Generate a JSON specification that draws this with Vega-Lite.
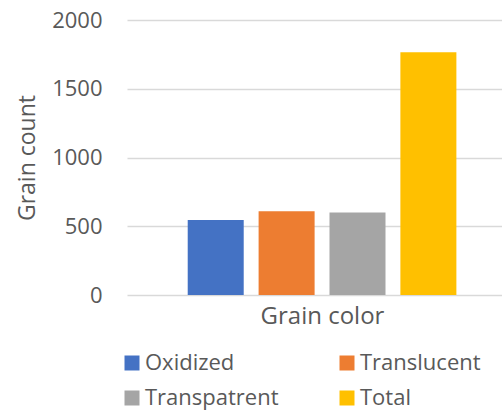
{
  "$schema": "https://vega.github.io/schema/vega-lite/v6.json",
  "width": 375,
  "height": 275,
  "autosize": {"type": "none"},
  "padding": {"left": 127, "top": 20, "right": 0, "bottom": 117},
  "background": "white",
  "config": {
    "font": "Open Sans",
    "view": {"stroke": null},
    "axis": {"labelColor": "#595959", "titleColor": "#595959", "labelFont": "Open Sans", "titleFont": "Open Sans", "titleFontWeight": "normal"}
  },
  "data": {
    "values": [
      {"series": "Oxidized", "count": 545},
      {"series": "Translucent", "count": 609},
      {"series": "Transpatrent", "count": 600},
      {"series": "Total", "count": 1765}
    ]
  },
  "mark": {"type": "bar"},
  "encoding": {
    "x": {
      "field": "series",
      "type": "nominal",
      "sort": null,
      "scale": {"paddingInner": 0.21, "paddingOuter": 0.75, "align": 0.571},
      "axis": {
        "title": "Grain color",
        "labels": false,
        "ticks": false,
        "domain": false,
        "titleFontSize": 24,
        "titleX": 195,
        "titlePadding": 9
      }
    },
    "y": {
      "field": "count",
      "type": "quantitative",
      "scale": {"domain": [0, 2000], "nice": false},
      "axis": {
        "title": "Grain count",
        "values": [0, 500, 1000, 1500, 2000],
        "format": "d",
        "domain": false,
        "ticks": false,
        "labelPadding": 25,
        "labelFontSize": 22,
        "titleFontSize": 23,
        "titlePadding": 12,
        "gridColor": "#D9D9D9",
        "gridWidth": 1.5
      }
    },
    "color": {
      "field": "series",
      "type": "nominal",
      "sort": null,
      "scale": {
        "domain": ["Oxidized", "Translucent", "Transpatrent", "Total"],
        "range": ["#4472C4", "#ED7D31", "#A5A5A5", "#FFC000"]
      },
      "legend": {
        "title": null,
        "orient": "none",
        "legendX": -6,
        "legendY": 332,
        "columns": 2,
        "direction": "horizontal",
        "symbolType": "square",
        "symbolSize": 225,
        "symbolStrokeWidth": 0,
        "labelFontSize": 22,
        "labelColor": "#595959",
        "labelFont": "Open Sans",
        "columnPadding": 57,
        "rowPadding": 13,
        "labelOffset": 2
      }
    }
  }
}
